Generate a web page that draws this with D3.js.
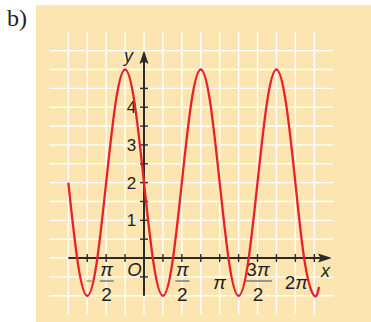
<!DOCTYPE html>
<html><head><meta charset="utf-8">
<script src="https://cdn.jsdelivr.net/npm/d3@7"></script>
<style>html,body{margin:0;padding:0;background:#fff;} svg{display:block}</style>
</head><body>
<svg id="chart" width="371" height="322"></svg>
<script>
// curve readings: x in multiples of π, y values
const curveX = [-1, -0.875, -0.75, -0.625, -0.5, -0.375, -0.25, -0.125, 0, 0.125, 0.25, 0.375, 0.5, 0.625, 0.75, 0.875, 1, 1.125, 1.25, 1.375, 1.5, 1.625, 1.75, 1.875, 2, 2.125, 2.25, 2.3125];
const curveY = [2, -0.12, -1, -0.12, 2, 4.12, 5, 4.12, 2, -0.12, -1, -0.12, 2, 4.12, 5, 4.12, 2, -0.12, -1, -0.12, 2, 4.12, 5, 4.12, 2, -0.12, -1, -0.77];
const yTickValues = [1, 2, 3, 4];
const yTickLabels = ["1", "2", "3", "4"];
const xLabelValues = [-0.5, 0.5, 1, 1.5, 2];
const xLabelNums = ["π", "π", "π", "3π", "2π"];
const xLabelDens = ["2", "2", "", "2", ""];
const xLabelNeg = [true, false, false, false, false];

const svg = d3.select("#chart");
const FONT = "'Liberation Sans Narrow','Arial Narrow','Liberation Sans',Arial,sans-serif";
const INK = "#231f20";

svg.append("rect").attr("x", 36).attr("y", 5).attr("width", 335).attr("height", 317).attr("fill", "#fde5b1");

svg.append("text").attr("x", 7).attr("y", 26).attr("font-family", "'Liberation Serif','Times New Roman',serif")
  .attr("font-size", 24).attr("fill", INK).text("b)");

const x = d3.scaleLinear().domain([-1.25, 2.5]).range([49.4, 333.2]);
const y = d3.scaleLinear().domain([-1.5, 6]).range([314.6, 31.8]);

const grid = svg.append("g").attr("stroke", "#fff").attr("stroke-width", 1.4);
d3.range(-4, 10).forEach(k => {
  grid.append("line").attr("x1", x(k / 4)).attr("x2", x(k / 4)).attr("y1", y(-1.5)).attr("y2", y(6));
});
d3.range(-2, 12).forEach(k => {
  grid.append("line").attr("x1", x(-1.25)).attr("x2", x(2.5)).attr("y1", y(k / 2)).attr("y2", y(k / 2));
});

// axes
const ax = svg.append("g").attr("stroke", "#2a2a2a");
const x0 = x(0), y0 = y(0);
ax.append("line").attr("x1", x(-1)).attr("x2", 326).attr("y1", y0).attr("y2", y0).attr("stroke-width", 2);
ax.append("line").attr("x1", x0).attr("x2", x0).attr("y1", y(-1)).attr("y2", 56).attr("stroke-width", 2);
svg.append("path").attr("d", `M332,${y0} L318,${y0 - 4.5} L320.5,${y0} L318,${y0 + 4.5} Z`).attr("fill", "#2a2a2a");
svg.append("path").attr("d", `M${x0},50.5 L${x0 - 4.5},64 L${x0},61.5 L${x0 + 4.5},64 Z`).attr("fill", "#2a2a2a");
d3.range(-3, 10).filter(k => k !== 0).forEach(k => {
  ax.append("line").attr("x1", x(k / 4)).attr("x2", x(k / 4)).attr("y1", y0 - 4).attr("y2", y0 + 4).attr("stroke-width", 1.4);
});
d3.range(-1, 10).filter(k => k !== 0).forEach(k => {
  ax.append("line").attr("x1", x0 - 4).attr("x2", x0 + 4).attr("y1", y(k / 2)).attr("y2", y(k / 2)).attr("stroke-width", 1.4);
});

// y labels
yTickValues.forEach((v, i) => {
  svg.append("text").attr("x", 131.5).attr("y", y(v)).attr("dy", "0.36em").attr("text-anchor", "middle")
    .attr("font-family", FONT).attr("font-size", 17).attr("fill", INK).text(yTickLabels[i]);
});
svg.append("text").attr("x", 128.5).attr("y", 62).attr("text-anchor", "middle").attr("font-style", "italic")
  .attr("font-family", FONT).attr("font-size", 18).attr("fill", INK).text("y");
svg.append("text").attr("x", 325.5).attr("y", 277).attr("text-anchor", "middle").attr("font-style", "italic")
  .attr("font-family", FONT).attr("font-size", 18).attr("fill", INK).text("x");
svg.append("text").attr("x", 134.5).attr("y", 275.7).attr("text-anchor", "middle").attr("font-style", "italic")
  .attr("font-family", FONT).attr("font-size", 18.5).attr("fill", INK).text("O");

// x labels
const barY = 281;
xLabelValues.forEach((v, i) => {
  const cx = x(v) + (v === 1 ? 0 : (v === 2 ? 1 : 0.5));
  if (xLabelDens[i]) {
    const w = xLabelNums[i].length > 1 ? 28 : 14;
    svg.append("text").attr("x", cx).attr("y", 275.5).attr("text-anchor", "middle")
      .attr("font-family", FONT).attr("font-size", 19).attr("fill", INK)
      .selectAll("tspan").data(xLabelNums[i].split("")).join("tspan")
      .attr("font-style", d => d === "π" ? "italic" : "normal").text(d => d);
    svg.append("line").attr("x1", cx - w / 2).attr("x2", cx + w / 2).attr("y1", barY).attr("y2", barY)
      .attr("stroke", "#555").attr("stroke-width", 1.1);
    svg.append("text").attr("x", cx).attr("y", 300.5).attr("text-anchor", "middle")
      .attr("font-family", FONT).attr("font-size", 19).attr("fill", INK).text(xLabelDens[i]);
    if (xLabelNeg[i]) {
      svg.append("line").attr("x1", cx - w / 2 - 13).attr("x2", cx - w / 2 - 8).attr("y1", barY).attr("y2", barY)
        .attr("stroke", "#777").attr("stroke-width", 1.1);
    }
  } else {
    svg.append("text").attr("x", cx).attr("y", 288.5).attr("text-anchor", "middle")
      .attr("font-family", FONT).attr("font-size", 19).attr("fill", INK)
      .selectAll("tspan").data(xLabelNums[i].split("")).join("tspan")
      .attr("font-style", d => d === "π" ? "italic" : "normal").text(d => d);
  }
});

// curve
const line = d3.line().x((d, i) => x(d)).y((d, i) => y(curveY[i])).curve(d3.curveNatural);
svg.append("path").attr("d", line(curveX)).attr("fill", "none").attr("stroke", "#e8202a")
  .attr("stroke-width", 2.3).attr("stroke-linejoin", "round");
</script>
</body></html>
